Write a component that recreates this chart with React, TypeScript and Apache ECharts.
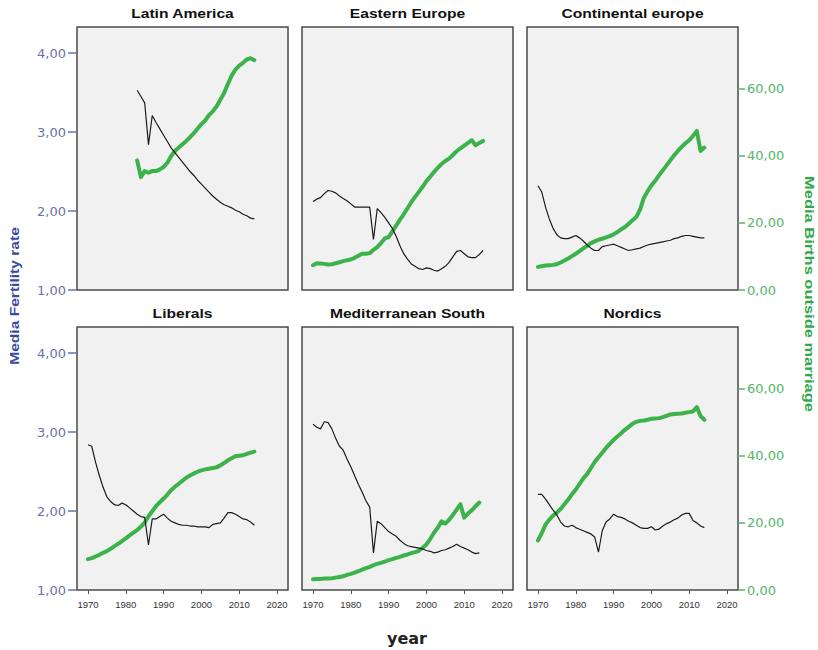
import React, { useEffect, useRef } from "react";
import * as echarts from "echarts";

// ---------- data ----------
const YEARS_1983_2014 = [
  1983, 1984, 1985, 1986, 1987, 1988, 1989, 1990, 1991, 1992, 1993, 1994, 1995, 1996, 1997, 1998,
  1999, 2000, 2001, 2002, 2003, 2004, 2005, 2006, 2007, 2008, 2009, 2010, 2011, 2012, 2013, 2014,
];
const YEARS_1970_2014 = [
  1970, 1971, 1972, 1973, 1974, 1975, 1976, 1977, 1978, 1979, 1980, 1981, 1982, 1983, 1984, 1985,
  1986, 1987, 1988, 1989, 1990, 1991, 1992, 1993, 1994, 1995, 1996, 1997, 1998, 1999, 2000, 2001,
  2002, 2003, 2004, 2005, 2006, 2007, 2008, 2009, 2010, 2011, 2012, 2013, 2014,
];
const YEARS_1970_2015 = [...YEARS_1970_2014, 2015];

const LATIN_FERT = [
  3.53, 3.45, 3.37, 2.84, 3.21, 3.12, 3.04, 2.96, 2.88, 2.8, 2.74, 2.68, 2.62, 2.56, 2.5, 2.45,
  2.39, 2.34, 2.29, 2.24, 2.19, 2.15, 2.11, 2.08, 2.06, 2.04, 2.01, 1.99, 1.96, 1.94, 1.91, 1.9,
];
const LATIN_BIRTHS = [
  38.7, 33.7, 35.5, 35.0, 35.5, 35.5, 36.0, 36.7, 38.0, 40.0, 41.5, 42.5, 43.5, 44.5, 45.6, 46.8,
  48.2, 49.5, 50.6, 52.2, 53.3, 54.8, 56.8, 58.8, 61.5, 64.0, 65.8, 67.0, 67.8, 68.8, 69.2, 68.6,
];

const EAST_FERT = [
  2.12, 2.15, 2.17, 2.22, 2.26, 2.25, 2.23, 2.19, 2.16, 2.13,
  2.09, 2.05, 2.05, 2.05, 2.05, 2.05, 1.64, 2.03, 1.98, 1.92,
  1.85, 1.78, 1.68, 1.56, 1.46, 1.39, 1.33, 1.3, 1.27, 1.26,
  1.28, 1.27, 1.25, 1.24, 1.27, 1.3, 1.35, 1.42, 1.49, 1.5,
  1.46, 1.42, 1.41, 1.41, 1.45, 1.5,
];
const EAST_BIRTHS = [
  7.4, 8.0, 7.9, 7.8, 7.6, 7.7, 8.0, 8.3, 8.6, 8.9,
  9.1, 9.6, 10.2, 10.8, 10.8, 11.0, 12.0, 12.8, 14.0, 15.4,
  15.8, 17.5, 19.2, 21.0, 22.6, 24.4, 26.2, 27.8, 29.3, 30.8,
  32.5, 33.8, 35.2, 36.5, 37.6, 38.5, 39.2, 40.3, 41.4, 42.3,
  43.1, 43.9, 44.7, 43.2, 43.9, 44.5,
];

const CONT_FERT = [
  2.32, 2.24, 2.05, 1.9, 1.78, 1.7, 1.66, 1.65, 1.65, 1.67,
  1.69, 1.66, 1.62, 1.57, 1.53, 1.5, 1.5, 1.55, 1.56, 1.57,
  1.58, 1.56, 1.54, 1.52, 1.5, 1.51, 1.52, 1.53, 1.55, 1.57,
  1.58, 1.59, 1.6, 1.61, 1.62, 1.63, 1.65, 1.66, 1.68, 1.69,
  1.69, 1.68, 1.67, 1.66, 1.66,
];
const CONT_BIRTHS = [
  6.9, 7.1, 7.3, 7.4, 7.5, 7.7, 8.2, 8.8, 9.4, 10.1,
  10.8, 11.6, 12.4, 13.2, 14.0, 14.5, 15.0, 15.3, 15.7, 16.1,
  16.6, 17.3, 18.1, 18.8, 19.8, 20.8, 21.8, 24.0, 27.5, 29.5,
  31.2, 32.6, 34.2, 35.7, 37.2, 38.7, 40.2, 41.5, 42.7, 43.8,
  44.7, 46.0, 47.5, 41.5, 42.5,
];

const LIB_FERT = [
  2.84, 2.82, 2.62, 2.45, 2.3, 2.18, 2.12, 2.08, 2.07, 2.1,
  2.08, 2.04, 2.0, 1.96, 1.93, 1.92, 1.57, 1.9, 1.9, 1.93,
  1.96, 1.91, 1.87, 1.85, 1.83, 1.82, 1.82, 1.81, 1.81, 1.8,
  1.8, 1.8, 1.79, 1.83, 1.84, 1.85, 1.91, 1.98, 1.98, 1.96,
  1.93, 1.9, 1.89, 1.86, 1.82,
];
const LIB_BIRTHS = [
  9.2, 9.5, 10.0, 10.5, 11.1, 11.6, 12.3, 13.1, 13.8, 14.6,
  15.4, 16.3, 17.1, 17.9, 18.9, 20.1, 22.0, 23.5, 25.0, 26.2,
  27.3, 28.5, 29.8, 30.8, 31.7, 32.6, 33.5, 34.2, 34.8, 35.3,
  35.7, 36.0, 36.2, 36.4, 36.6, 37.2, 37.9, 38.7, 39.3, 39.9,
  40.1, 40.2, 40.6, 41.0, 41.3,
];

const MED_FERT = [
  3.1, 3.06, 3.04, 3.13, 3.12, 3.04, 2.92, 2.82, 2.77, 2.66,
  2.56, 2.45, 2.34, 2.24, 2.13, 2.05, 1.47, 1.87, 1.84, 1.79,
  1.74, 1.71, 1.68, 1.63, 1.59, 1.56, 1.55, 1.54, 1.53, 1.52,
  1.5, 1.49, 1.47, 1.48, 1.5, 1.51, 1.53, 1.55, 1.58, 1.55,
  1.53, 1.51, 1.48, 1.46, 1.47,
];
const MED_BIRTHS = [
  3.2, 3.3, 3.3, 3.4, 3.4, 3.5, 3.7, 3.9, 4.1, 4.5,
  4.8, 5.2, 5.6, 6.1, 6.5, 6.9, 7.4, 7.8, 8.1, 8.5,
  8.9, 9.2, 9.6, 9.9, 10.3, 10.6, 11.0, 11.3, 11.7, 12.6,
  13.6, 15.2, 17.1, 18.6, 20.5, 19.8, 21.0, 22.4, 24.0, 25.6,
  21.6, 22.8, 23.8, 25.0, 26.1,
];

const NORD_FERT = [
  2.21, 2.21, 2.15, 2.08, 2.01, 1.95, 1.86, 1.81, 1.8, 1.82,
  1.79, 1.77, 1.75, 1.73, 1.71, 1.67, 1.48, 1.75, 1.86, 1.9,
  1.96, 1.93, 1.92, 1.9, 1.87, 1.85, 1.82, 1.79, 1.78, 1.78,
  1.8, 1.76, 1.77, 1.81, 1.84, 1.86, 1.89, 1.91, 1.95, 1.97,
  1.97, 1.88, 1.85, 1.81, 1.79,
];
const NORD_BIRTHS = [
  14.8, 17.0, 19.5, 21.0, 22.2, 23.1, 24.2, 25.6, 27.0, 28.6,
  30.0, 31.7, 33.3, 34.6, 36.4, 38.2, 39.6, 41.0, 42.4, 43.6,
  44.8, 45.8, 46.8, 47.8, 48.7, 49.6, 50.2, 50.5, 50.6, 50.8,
  51.1, 51.2, 51.3, 51.6, 52.0, 52.4, 52.5, 52.6, 52.7, 52.9,
  53.1, 53.3, 54.6, 51.9, 50.8,
];

const PANEL_TITLES = [
  "Latin America",
  "Eastern Europe",
  "Continental europe",
  "Liberals",
  "Mediterranean South",
  "Nordics",
];
const X_TICKS = [1970, 1980, 1990, 2000, 2010, 2020];
const LEFT_TICKS = [1, 2, 3, 4];
const RIGHT_TICKS = [0, 20, 40, 60];

const PANELS = [
  { years: YEARS_1983_2014, fert: LATIN_FERT, births: LATIN_BIRTHS },
  { years: YEARS_1970_2015, fert: EAST_FERT, births: EAST_BIRTHS },
  { years: YEARS_1970_2014, fert: CONT_FERT, births: CONT_BIRTHS },
  { years: YEARS_1970_2014, fert: LIB_FERT, births: LIB_BIRTHS },
  { years: YEARS_1970_2014, fert: MED_FERT, births: MED_BIRTHS },
  { years: YEARS_1970_2014, fert: NORD_FERT, births: NORD_BIRTHS },
];

// ---------- layout / style ----------
const GRID_LEFTS = [77, 302, 527];
const GRID_TOPS = [27, 327];
const GRID_W = 211;
const GRID_H = 263;
const GREEN = "#3bb34a";
const LEFT_COLOR = "#6a73a9";
const RIGHT_COLOR = "#55b56a";

const fmt = (v: number) => v.toFixed(2).replace(".", ",");

function buildOption() {
  const grid: any[] = [];
  const xAxis: any[] = [];
  const yAxis: any[] = [];
  const series: any[] = [];
  const graphic: any[] = [];

  PANELS.forEach((p, i) => {
    const col = i % 3;
    const row = Math.floor(i / 3);
    const left = GRID_LEFTS[col];
    const top = GRID_TOPS[row];
    grid.push({
      left,
      top,
      width: GRID_W,
      height: GRID_H,
      show: true,
      backgroundColor: "#f1f1f1",
      borderColor: "#4a4a4a",
      borderWidth: 1.5,
      containLabel: false,
      outerBoundsMode: "none",
    });
    xAxis.push({
      gridIndex: i,
      type: "value",
      min: 1967.1,
      max: 2022.9,
      axisLine: { show: false },
      splitLine: { show: false },
      axisTick: {
        show: row === 1,
        customValues: X_TICKS,
        length: 4,
        lineStyle: { color: "#555", width: 1 },
      },
      axisLabel: {
        show: row === 1,
        customValues: X_TICKS,
        margin: 9,
        fontSize: 9.5,
        fontFamily: "Liberation Sans, Arial, sans-serif",
        color: "#333",
        formatter: (v: number) => String(v),
      },
    });
    yAxis.push({
      gridIndex: i,
      type: "value",
      position: "left",
      min: 1,
      max: 4.33,
      axisLine: { show: false },
      splitLine: { show: false },
      axisTick: {
        show: col === 0,
        customValues: LEFT_TICKS,
        length: 9,
        lineStyle: { color: LEFT_COLOR, width: 1.5 },
      },
      axisLabel: {
        show: col === 0,
        customValues: LEFT_TICKS,
        margin: 11,
        fontSize: 13,
        fontFamily: "DejaVu Sans, sans-serif",
        color: LEFT_COLOR,
        formatter: (v: number) => fmt(v),
      },
    });
    yAxis.push({
      gridIndex: i,
      type: "value",
      position: "right",
      min: 0,
      max: 78.5,
      axisLine: { show: false },
      splitLine: { show: false },
      axisTick: {
        show: col === 2,
        customValues: RIGHT_TICKS,
        length: 7,
        lineStyle: { color: RIGHT_COLOR, width: 1.5 },
      },
      axisLabel: {
        show: col === 2,
        customValues: RIGHT_TICKS,
        margin: 9,
        fontSize: 13,
        fontFamily: "DejaVu Sans, sans-serif",
        color: RIGHT_COLOR,
        formatter: (v: number) => fmt(v),
      },
    });
    series.push({
      type: "line",
      name: PANEL_TITLES[i] + " births",
      xAxisIndex: i,
      yAxisIndex: 2 * i + 1,
      data: p.years.map((y, k) => [y, p.births[k]]),
      symbol: "none",
      lineStyle: { color: GREEN, width: 4, join: "round", cap: "round" },
      z: 2,
    });
    series.push({
      type: "line",
      name: PANEL_TITLES[i] + " fertility",
      xAxisIndex: i,
      yAxisIndex: 2 * i,
      data: p.years.map((y, k) => [y, p.fert[k]]),
      symbol: "none",
      lineStyle: { color: "#1c1c1c", width: 1.2 },
      z: 3,
    });
    graphic.push({
      type: "text",
      x: left + GRID_W / 2,
      y: top - 13,
      scaleX: 1.25,
      style: {
        text: PANEL_TITLES[i],
        fontSize: 12.5,
        fontWeight: "bold",
        fontFamily: "Liberation Sans, Arial, sans-serif",
        fill: "#111",
        textAlign: "center",
        textVerticalAlign: "middle",
        align: "center",
        verticalAlign: "middle",
      },
    });
  });

  graphic.push({
    type: "text",
    x: 14,
    y: 296,
    rotation: Math.PI / 2,
    scaleX: 1.2,
    style: {
      text: "Media Fertility rate",
      fontSize: 13,
      fontWeight: "bold",
      fontFamily: "Liberation Sans, Arial, sans-serif",
      fill: "#3a4b9f",
      textAlign: "center",
      textVerticalAlign: "middle",
      align: "center",
      verticalAlign: "middle",
    },
  });
  graphic.push({
    type: "text",
    x: 810,
    y: 294,
    rotation: -Math.PI / 2,
    scaleX: 1.22,
    style: {
      text: "Media Births outside marriage",
      fontSize: 13.5,
      fontWeight: "bold",
      fontFamily: "Liberation Sans, Arial, sans-serif",
      fill: "#2fa84a",
      textAlign: "center",
      textVerticalAlign: "middle",
      align: "center",
      verticalAlign: "middle",
    },
  });
  graphic.push({
    type: "text",
    x: 407,
    y: 638,
    style: {
      text: "year",
      fontSize: 16,
      fontWeight: "bold",
      fontFamily: "DejaVu Sans, sans-serif",
      fill: "#222",
      textAlign: "center",
      textVerticalAlign: "middle",
      align: "center",
      verticalAlign: "middle",
    },
  });

  return {
    animation: false,
    backgroundColor: "#ffffff",
    grid,
    xAxis,
    yAxis,
    series,
    graphic,
  };
}

export default function App() {
  const ref = useRef<HTMLDivElement>(null);
  useEffect(() => {
    if (!ref.current) return;
    const chart = echarts.init(ref.current, undefined, { renderer: "svg" });
    chart.setOption(buildOption() as any);
    return () => chart.dispose();
  }, []);
  return (
    <div
      ref={ref}
      style={{ position: "absolute", left: 0, top: 0, width: 818, height: 650 }}
    />
  );
}
